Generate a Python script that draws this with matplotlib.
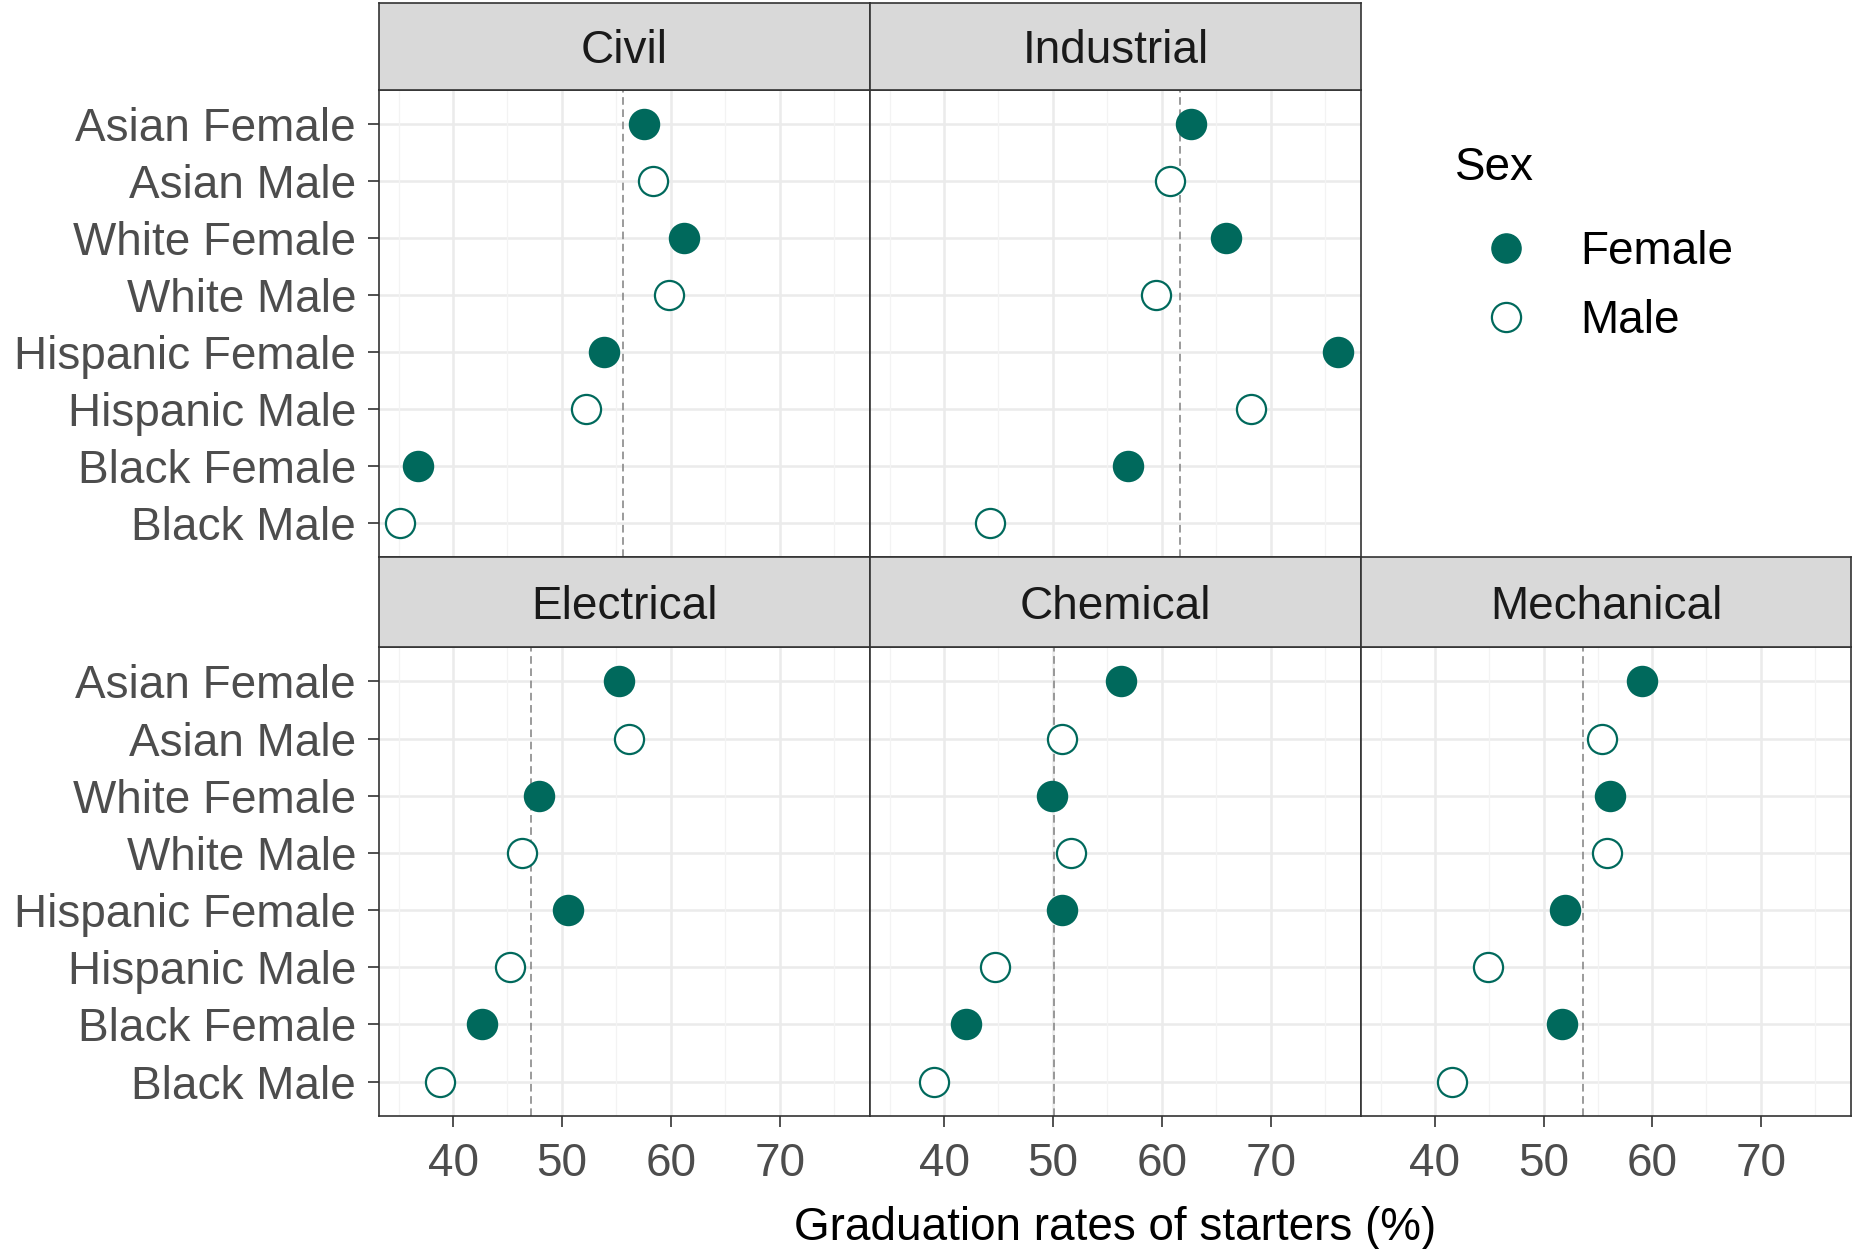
import matplotlib.pyplot as plt
from matplotlib.lines import Line2D

plt.rcParams['font.family'] = ['Liberation Sans', 'DejaVu Sans']

groups = ['Asian Female', 'Asian Male', 'White Female', 'White Male',
          'Hispanic Female', 'Hispanic Male', 'Black Female', 'Black Male']
sexes = ['Female', 'Male', 'Female', 'Male', 'Female', 'Male', 'Female', 'Male']

majors = ['Civil', 'Industrial', 'Electrical', 'Chemical', 'Mechanical']
civil = [57.5, 58.4, 61.2, 59.8, 53.9, 52.2, 36.8, 35.1]
industrial = [62.7, 60.8, 65.9, 59.5, 76.2, 68.2, 56.9, 44.2]
electrical = [55.2, 56.2, 47.9, 46.3, 50.6, 45.2, 42.7, 38.8]
chemical = [56.3, 50.8, 49.9, 51.7, 50.8, 44.7, 42.0, 39.1]
mechanical = [59.1, 55.4, 56.1, 55.8, 52.0, 44.9, 51.7, 41.6]
overall = [55.6, 61.7, 47.2, 50.1, 53.6]   # dashed reference line per major

rates = [civil, industrial, electrical, chemical, mechanical]
x_ticks = [40, 50, 60, 70]
x_minor = [35, 45, 55, 65, 75]

teal = '#00695C'
W, H = 1852, 1249
fig = plt.figure(figsize=(W / 100, H / 100), dpi=100)

col_edges = [379, 870, 1361, 1851]
# (strip top, panel top, panel bottom) in pixels
row_edges = [(3, 90, 557), (557, 647, 1116)]
slots = [(0, 0), (0, 1), (1, 0), (1, 1), (1, 2)]

for k, (r, c) in enumerate(slots):
    st, pt, pb = row_edges[r]
    x0, x1 = col_edges[c], col_edges[c + 1]
    ax = fig.add_axes([x0 / W, 1 - pb / H, (x1 - x0) / W, (pb - pt) / H])
    sax = fig.add_axes([x0 / W, 1 - pt / H, (x1 - x0) / W, (pt - st) / H])

    # strip
    sax.set_facecolor('#D9D9D9')
    sax.set_xticks([])
    sax.set_yticks([])
    for sp in sax.spines.values():
        sp.set_color('#333333')
        sp.set_linewidth(1.2)
    sax.text(0.5, 0.31, majors[k], ha='center', va='baseline', fontsize=33,
             color='#1A1A1A', transform=sax.transAxes)

    # grid
    for i in range(len(groups)):
        ax.axhline(i, color='#EBEBEB', lw=1.8, zorder=0)
    for v in x_ticks:
        ax.axvline(v, color='#EBEBEB', lw=1.8, zorder=0)
    for v in x_minor:
        ax.axvline(v, color='#F3F3F3', lw=0.9, zorder=0)

    ax.axvline(overall[k], color='#808080', lw=1.1, ls=(0, (5, 3)), zorder=1)

    vals = rates[k]
    fx = [v for v, s in zip(vals, sexes) if s == 'Female']
    fy = [i for i, s in enumerate(sexes) if s == 'Female']
    mx = [v for v, s in zip(vals, sexes) if s == 'Male']
    my = [i for i, s in enumerate(sexes) if s == 'Male']
    ax.scatter(fx, fy, s=460, color=teal, edgecolor=teal, lw=1.2, zorder=3)
    ax.scatter(mx, my, s=440, facecolor='white', edgecolor=teal, lw=1.6, zorder=3)

    ax.set_xlim(33.2, 78.3)
    ax.set_ylim(7.6, -0.6)
    for sp in ax.spines.values():
        sp.set_color('#333333')
        sp.set_linewidth(1.2)

    ax.set_xticks(x_ticks)
    ax.set_yticks(range(len(groups)))
    ax.tick_params(axis='both', length=8, width=1.2, color='#333333',
                   labelsize=33, labelcolor='#4D4D4D', pad=8.5)
    ax.tick_params(axis='x', pad=10.5)
    if c == 0:
        ax.set_yticklabels(groups)
    else:
        ax.tick_params(axis='y', left=False, labelleft=False)
    if r == 0:
        ax.tick_params(axis='x', bottom=False, labelbottom=False)

fig.text(1115 / W, 1 - 1228 / H, 'Graduation rates of starters (%)',
         ha='center', va='center', fontsize=33, color='black')

# legend
fig.text(1455 / W, 1 - 168 / H, 'Sex', ha='left', va='center',
         fontsize=33, color='black')
handles = [
    Line2D([], [], marker='o', ls='', markersize=21, markerfacecolor=teal,
           markeredgecolor=teal),
    Line2D([], [], marker='o', ls='', markersize=21, markerfacecolor='white',
           markeredgecolor=teal, markeredgewidth=1.6),
]
fig.legend(handles, ['Female', 'Male'], loc='upper left',
           bbox_to_anchor=(1428 / W, 1 - 189 / H), frameon=False,
           fontsize=33, handlelength=1.6, handletextpad=0.83,
           labelspacing=0.55)

fig.savefig('out.png', dpi=100)
